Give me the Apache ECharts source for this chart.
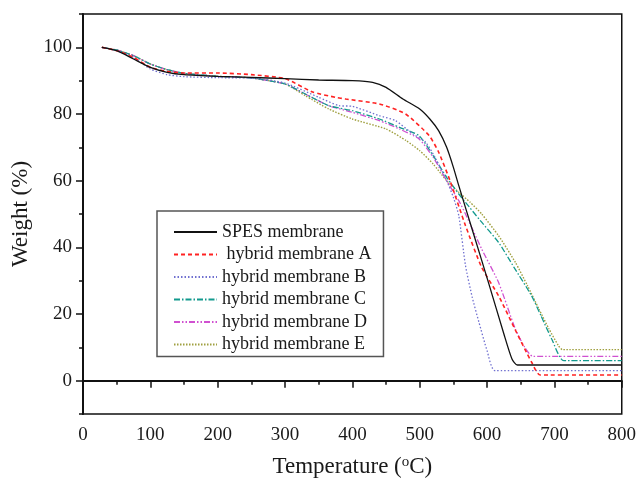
<!DOCTYPE html>
<html>
<head>
<meta charset="utf-8">
<script src="https://cdn.jsdelivr.net/npm/echarts@6/dist/echarts.min.js"></script>
<style>
html, body { margin: 0; padding: 0; background: #fff; }
#main { width: 639px; height: 483px; }
</style>
</head>
<body>
<div id="main"></div>
<script>
// TGA curves, [temperature (oC), weight (%)]
var spes = [[28,100],[50,99],[75,96.5],[100,94],[125,92.5],[150,91.8],[200,91.3],[250,91],[300,90.6],[350,90.2],[400,90],[430,89.5],[450,88],[475,84.5],[500,81.5],[515,78.5],[528,75],[540,70],[550,64],[558,58.5],[580,44],[602,29.5],[625,14],[637,6.5],[645,4.7],[800,4.7]];
var hybridA = [[28,100],[50,99],[75,97],[100,94],[125,92.8],[150,92.3],[200,92.3],[250,91.8],[300,90.6],[341,86.6],[375,85],[390,84.5],[440,83],[479,80],[514,73.5],[528,68.6],[545,60],[568,46.5],[592,34],[617,25.5],[640,16],[666,5.6],[679,1.7],[800,1.7]];
var hybridB = [[28,100],[50,99],[75,97],[100,93.5],[125,91.8],[150,91.2],[200,90.9],[250,90.8],[300,89.3],[350,85],[380,82.5],[400,82.3],[440,79.5],[464,78],[490,74],[509,71.5],[524,66.5],[540,60],[550,55],[558,49.5],[568,34.5],[578,25],[588,17.5],[600,9],[612,3],[800,3]];
var hybridC = [[28,100],[50,99.2],[75,97.5],[100,95],[125,93.3],[150,92.2],[200,91.3],[250,90.8],[300,89],[330,86],[365,82.5],[400,81],[440,78.5],[470,76],[499,73.5],[520,67.5],[540,61],[558,56],[568,53.5],[590,48],[617,41.5],[640,34],[666,25.5],[680,19.5],[696,12.5],[714,6],[800,6]];
var hybridD = [[28,100],[50,99.2],[75,97.5],[100,95],[125,93.3],[150,92.2],[200,91.3],[250,90.8],[300,89],[330,86],[365,82.5],[400,80.5],[440,78],[470,75.5],[499,72.5],[520,67],[540,60],[558,54],[568,50],[592,39.5],[617,29.5],[642,15.5],[656,10],[668,7.3],[800,7.3]];
var hybridE = [[28,100],[50,99.2],[75,97.5],[100,95],[125,93.3],[150,92.2],[200,91.3],[250,90.8],[300,89],[330,85.5],[365,81.5],[400,78.5],[450,75.5],[480,72],[500,69],[520,65],[540,60],[558,56.5],[575,53.5],[592,50],[617,43.5],[642,35.5],[660,28.5],[677,21.5],[692,15.5],[706,10.5],[712,9.3],[800,9.3]];

var seriesNames = ['SPES membrane', ' hybrid membrane A', 'hybrid membrane B', 'hybrid membrane C', 'hybrid membrane D', 'hybrid membrane E'];
var seriesData = [spes, hybridA, hybridB, hybridC, hybridD, hybridE];
var colors = ['#111111', '#ff2222', '#7070d0', '#139a8e', '#d050d0', '#a0a040'];
var dashes = ['solid', [4, 3], [1.5, 2], [6, 2, 1.5, 2], [6, 2, 1.5, 2, 1.5, 2], [1.5, 1.5]];
var widths = [1.3, 1.6, 1.3, 1.3, 1.3, 1.4];

var fontFam = 'Liberation Serif';
var myChart = echarts.init(document.getElementById('main'), null, {renderer: 'canvas'});

var series = [];
for (var i = seriesData.length - 1; i >= 0; i--) {
	series.push({
		name: seriesNames[i],
		type: 'line',
		xAxisIndex: 0,
		yAxisIndex: 0,
		data: seriesData[i],
		symbol: 'none',
		smooth: 0.2,
		z: 10 - i,
		lineStyle: {color: colors[i], type: dashes[i], width: widths[i]},
		itemStyle: {color: colors[i]}
	});
}

var option = {
	animation: false,
	backgroundColor: '#fff',
	grid: {
		left: 83, top: 14, right: 15, bottom: 69,
		show: true, borderColor: '#111', borderWidth: 1.5
	},
	legend: {
		data: seriesNames,
		orient: 'vertical',
		left: 157, top: 211,
		padding: [12, 12, 3, 16],
		itemWidth: 43, itemHeight: 14, itemGap: 4.5,
		itemStyle: {opacity: 0},
		borderColor: '#555', borderWidth: 1.5,
		textStyle: {fontFamily: fontFam, fontSize: 18, color: '#1a1a1a', lineHeight: 18}
	},
	xAxis: [{
		type: 'value', min: 0, max: 800, interval: 100,
		name: 'Temperature ({sup|o}C)',
		nameLocation: 'middle', nameGap: 41,
		nameTextStyle: {
			fontFamily: fontFam, fontSize: 23, color: '#1a1a1a',
			rich: {sup: {fontFamily: fontFam, fontSize: 15, color: '#1a1a1a', verticalAlign: 'top', padding: [0, 0, 8, 0]}}
		},
		axisLine: {lineStyle: {color: '#111', width: 2}},
		axisTick: {length: 7, lineStyle: {color: '#111', width: 1.5}},
		axisLabel: {fontFamily: fontFam, fontSize: 19, color: '#1a1a1a', margin: 12},
		splitLine: {show: false}
	}, {
		type: 'value', min: 0, max: 800, interval: 50, position: 'bottom',
		axisLine: {show: false},
		axisTick: {length: 4, lineStyle: {color: '#111', width: 1.5}},
		axisLabel: {show: false},
		splitLine: {show: false}
	}],
	yAxis: [{
		type: 'value', min: -10, max: 110,
		name: 'Weight (%)',
		nameLocation: 'middle', nameGap: 50, nameRotate: 90,
		nameTextStyle: {fontFamily: fontFam, fontSize: 23, color: '#1a1a1a'},
		axisLine: {lineStyle: {color: '#111', width: 2}},
		axisTick: {length: 7, customValues: [0, 20, 40, 60, 80, 100], lineStyle: {color: '#111', width: 1.5}},
		axisLabel: {fontFamily: fontFam, fontSize: 19, color: '#1a1a1a', margin: 11, customValues: [0, 20, 40, 60, 80, 100]},
		splitLine: {show: false}
	}, {
		type: 'value', min: -10, max: 110, interval: 10, position: 'left',
		axisLine: {show: false},
		axisTick: {length: 4, lineStyle: {color: '#111', width: 1.5}},
		axisLabel: {show: false},
		splitLine: {show: false}
	}],
	series: series
};
myChart.setOption(option);
</script>
</body>
</html>
